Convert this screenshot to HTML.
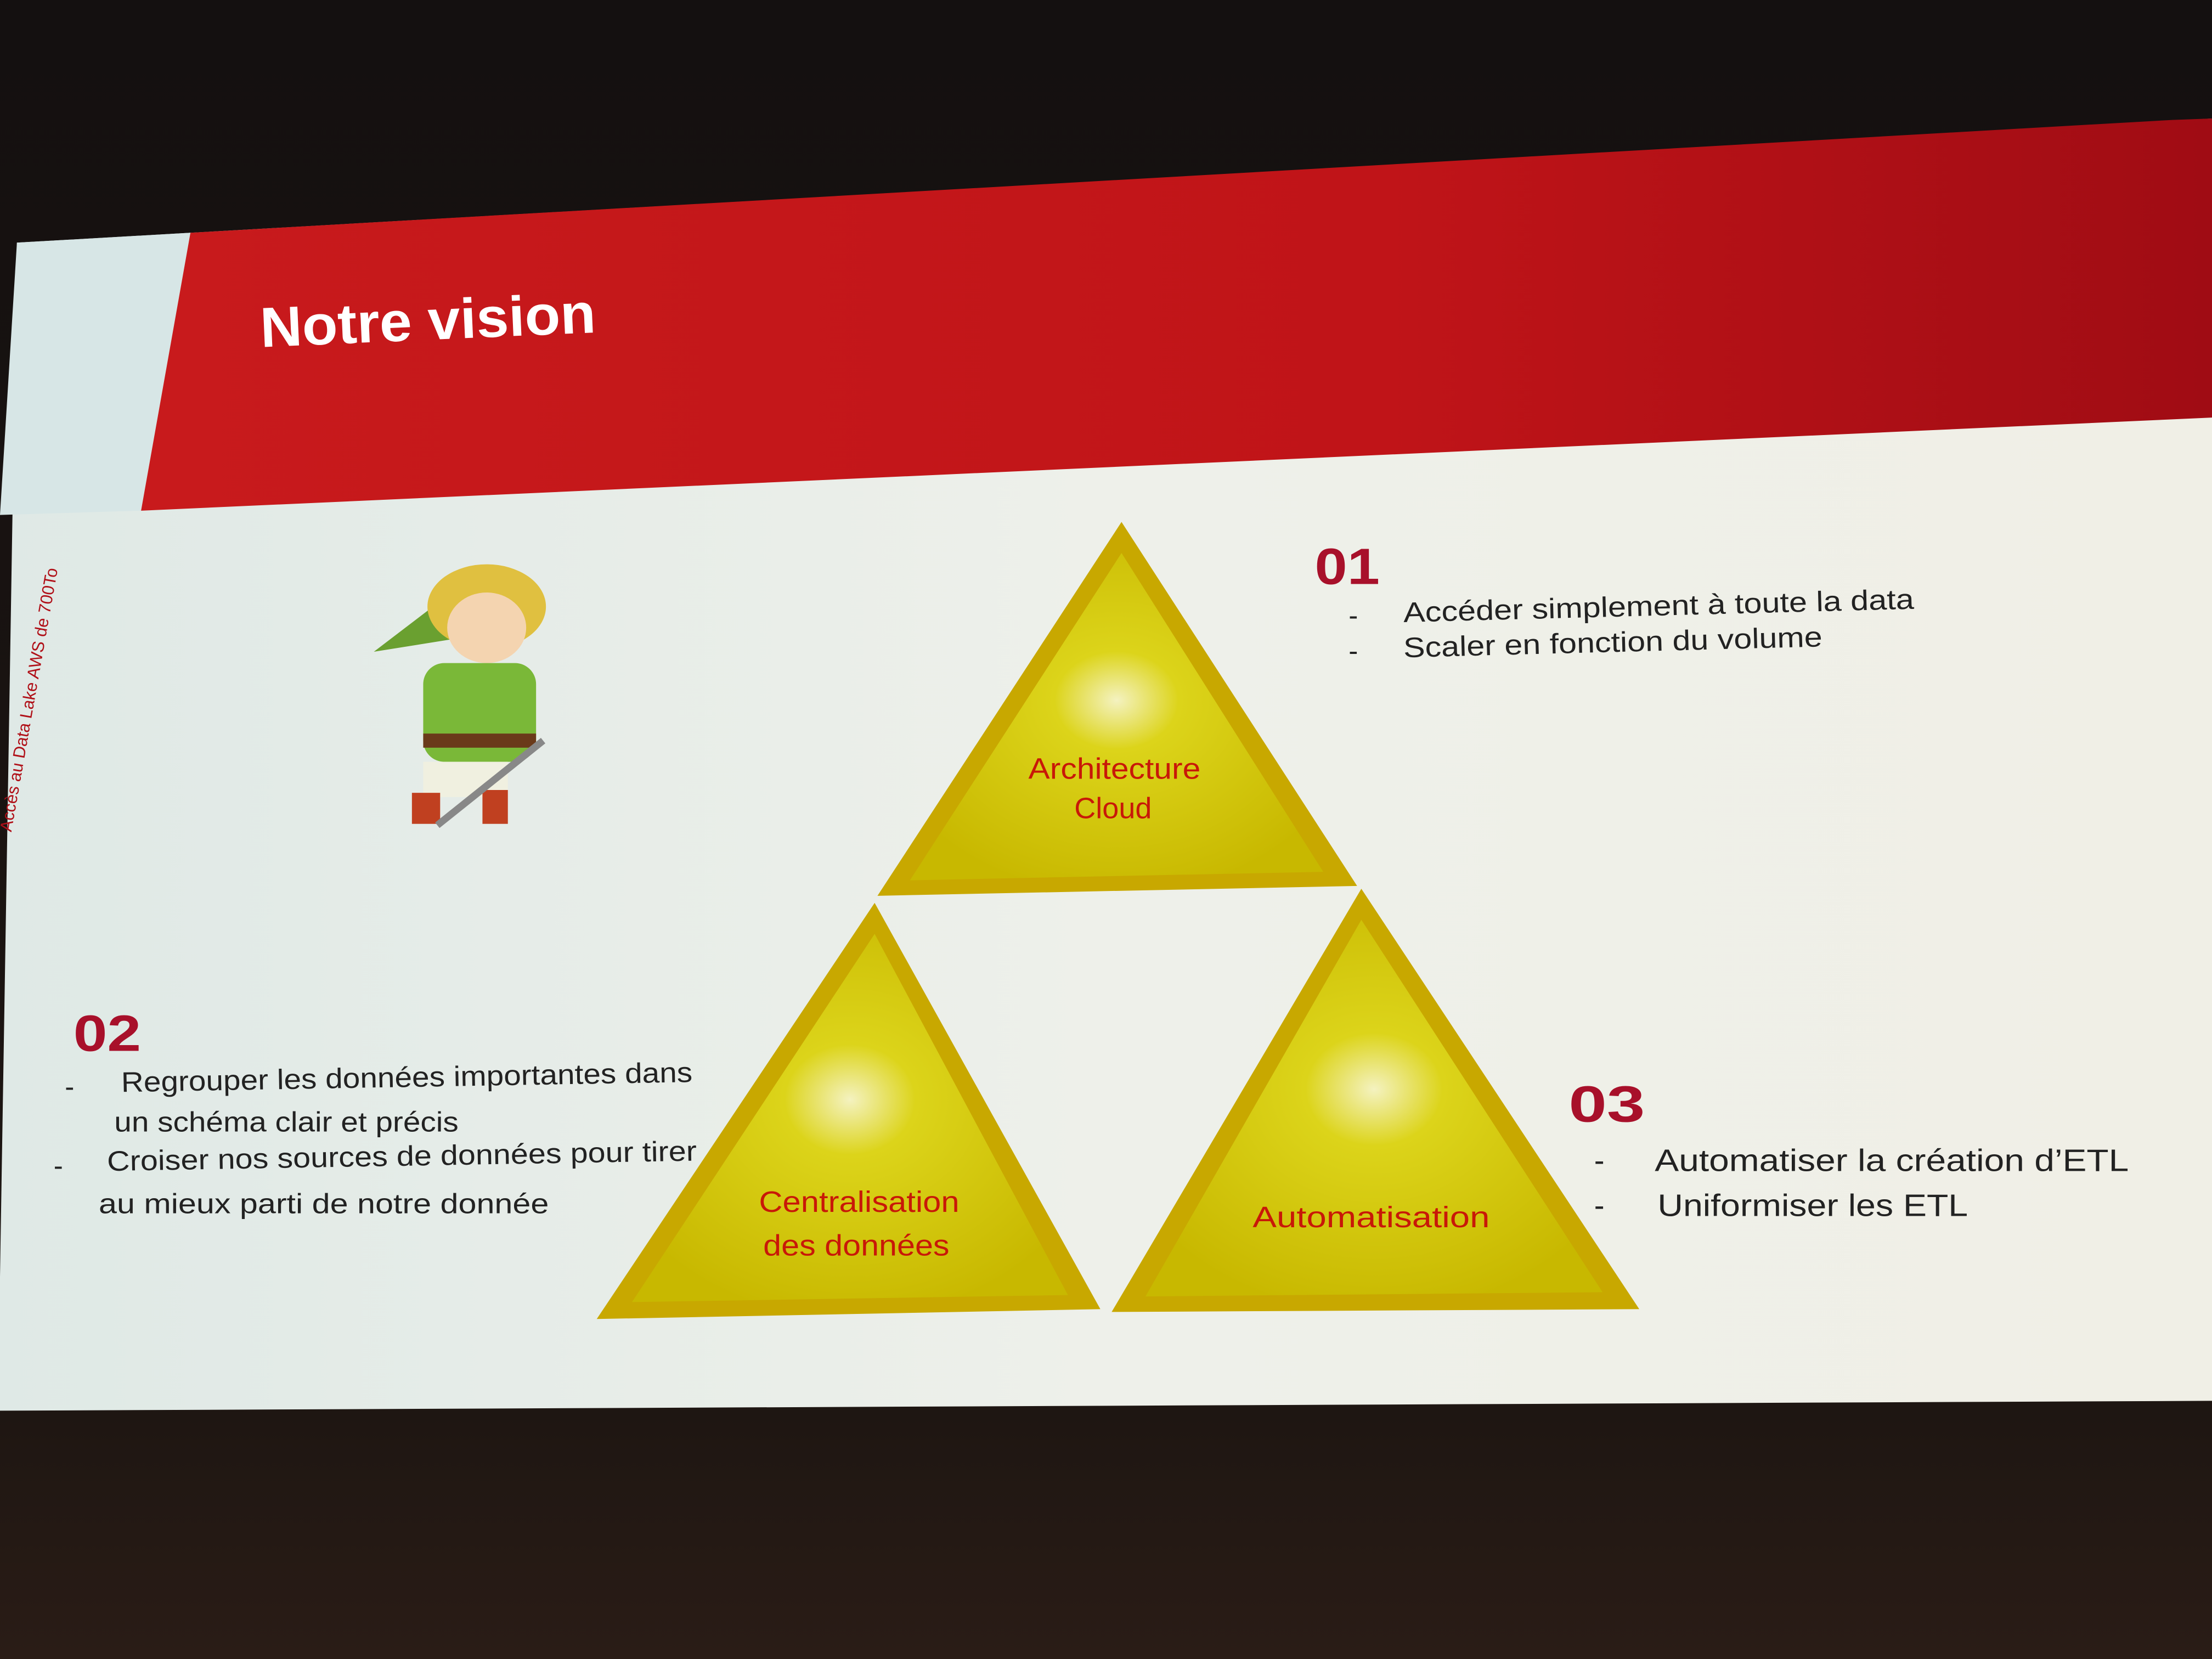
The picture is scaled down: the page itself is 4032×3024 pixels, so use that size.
<!DOCTYPE html>
<html><head><meta charset="utf-8"><style>
html,body{margin:0;padding:0;width:4032px;height:3024px;overflow:hidden;background:#161212}
svg{display:block}
text{font-family:"Liberation Sans",sans-serif}
</style></head><body>
<svg width="4032" height="3024" viewBox="0 0 1568 1176" xmlns="http://www.w3.org/2000/svg">
<defs>
<linearGradient id="bg" x1="0" y1="0" x2="0" y2="1">
<stop offset="0" stop-color="#141010"/><stop offset="0.85" stop-color="#1e1612"/><stop offset="1" stop-color="#2a1c16"/></linearGradient>
<linearGradient id="slide" x1="0" y1="0" x2="1" y2="0">
<stop offset="0" stop-color="#dfe9e6"/><stop offset="0.5" stop-color="#eef0ea"/><stop offset="1" stop-color="#f0efe6"/></linearGradient>
<linearGradient id="red" x1="0" y1="0" x2="1" y2="0">
<stop offset="0" stop-color="#c81a1c"/><stop offset="0.6" stop-color="#c01418"/><stop offset="1" stop-color="#a00c14"/></linearGradient>
<radialGradient id="tri" cx="0.5" cy="0.45" r="0.6">
<stop offset="0" stop-color="#f4f2c0"/><stop offset="0.25" stop-color="#dcd41a"/><stop offset="1" stop-color="#c8b800"/></radialGradient>
</defs>
<rect width="1568" height="1176" fill="url(#bg)"/>
<polygon points="12,172 135,165 1568,84 1568,993 0,1000 0,905" fill="url(#slide)"/>
<polygon points="12,172 135,165 100,362 0,365" fill="#d7e6e6"/>
<polygon points="135,165 1540,85 1568,84 1568,296 100,362" fill="url(#red)"/>
<text x="185" y="246" font-size="40" font-weight="bold" fill="#fff" textLength="238" lengthAdjust="spacingAndGlyphs" transform="rotate(-2.5 185 246)">Notre vision</text>
<text x="8" y="590" font-size="12" fill="#b01018" transform="rotate(-80 8 590)">Accès au Data Lake AWS de 700To</text>

<g>
<polygon points="265,462 320,420 340,450" fill="#6aa030"/>
<ellipse cx="345" cy="430" rx="42" ry="30" fill="#e0c040"/>
<ellipse cx="345" cy="445" rx="28" ry="25" fill="#f4d4b0"/>
<rect x="300" y="470" width="80" height="70" rx="15" fill="#7ab838"/>
<rect x="300" y="520" width="80" height="10" fill="#6a3a1a"/>
<rect x="300" y="540" width="60" height="25" fill="#f0f0e0"/>
<rect x="292" y="562" width="20" height="22" fill="#c04020"/>
<rect x="342" y="560" width="18" height="24" fill="#c04020"/>
<line x1="310" y1="585" x2="385" y2="525" stroke="#888" stroke-width="5"/>
</g>

<polygon points="795,370 962,628 622,635" fill="#c8a800"/>
<polygon points="795,392 938,618 645,624" fill="url(#tri)"/>
<polygon points="620,640 780,928 423,935" fill="#c8a800"/>
<polygon points="620,662 757,918 448,923" fill="url(#tri)"/>
<polygon points="965,630 1162,928 788,930" fill="#c8a800"/>
<polygon points="965,652 1136,916 812,919" fill="url(#tri)"/>

<g font-size="21" fill="#c81808" text-anchor="middle">
<text x="790" y="552" textLength="122" lengthAdjust="spacingAndGlyphs">Architecture</text><text x="789" y="580">Cloud</text>
<text x="609" y="859" textLength="142" lengthAdjust="spacingAndGlyphs">Centralisation</text><text x="607" y="890" textLength="132" lengthAdjust="spacingAndGlyphs">des données</text>
<text x="972" y="870" textLength="168" lengthAdjust="spacingAndGlyphs">Automatisation</text>
</g>

<g fill="#a8102a" font-size="36" font-weight="bold">
<text x="932" y="414" textLength="46" lengthAdjust="spacingAndGlyphs">01</text>
<text x="52" y="745" textLength="48" lengthAdjust="spacingAndGlyphs">02</text>
<text x="1112" y="795" textLength="54" lengthAdjust="spacingAndGlyphs">03</text>
</g>
<g fill="#222" font-size="20">
<text x="956" y="443">-</text><text x="995" y="441" textLength="362" lengthAdjust="spacingAndGlyphs" transform="rotate(-1.5 995 441)">Accéder simplement à toute la data</text>
<text x="956" y="468">-</text><text x="995" y="466" textLength="297" lengthAdjust="spacingAndGlyphs" transform="rotate(-1.5 995 466)">Scaler en fonction du volume</text>
<text x="46" y="777">-</text><text x="86" y="774" textLength="405" lengthAdjust="spacingAndGlyphs" transform="rotate(-1 86 774)">Regrouper les données importantes dans</text>
<text x="81" y="802" textLength="244" lengthAdjust="spacingAndGlyphs">un schéma clair et précis</text>
<text x="38" y="833">-</text><text x="76" y="830" textLength="418" lengthAdjust="spacingAndGlyphs" transform="rotate(-1 76 830)">Croiser nos sources de données pour tirer</text>
<text x="70" y="860" textLength="319" lengthAdjust="spacingAndGlyphs">au mieux parti de notre donnée</text>
<text x="1130" y="830" font-size="22">-</text><text x="1173" y="830" font-size="22" textLength="336" lengthAdjust="spacingAndGlyphs">Automatiser la création d’ETL</text>
<text x="1130" y="862" font-size="22">-</text><text x="1175" y="862" font-size="22" textLength="220" lengthAdjust="spacingAndGlyphs">Uniformiser les ETL</text>
</g>
</svg>
</body></html>
